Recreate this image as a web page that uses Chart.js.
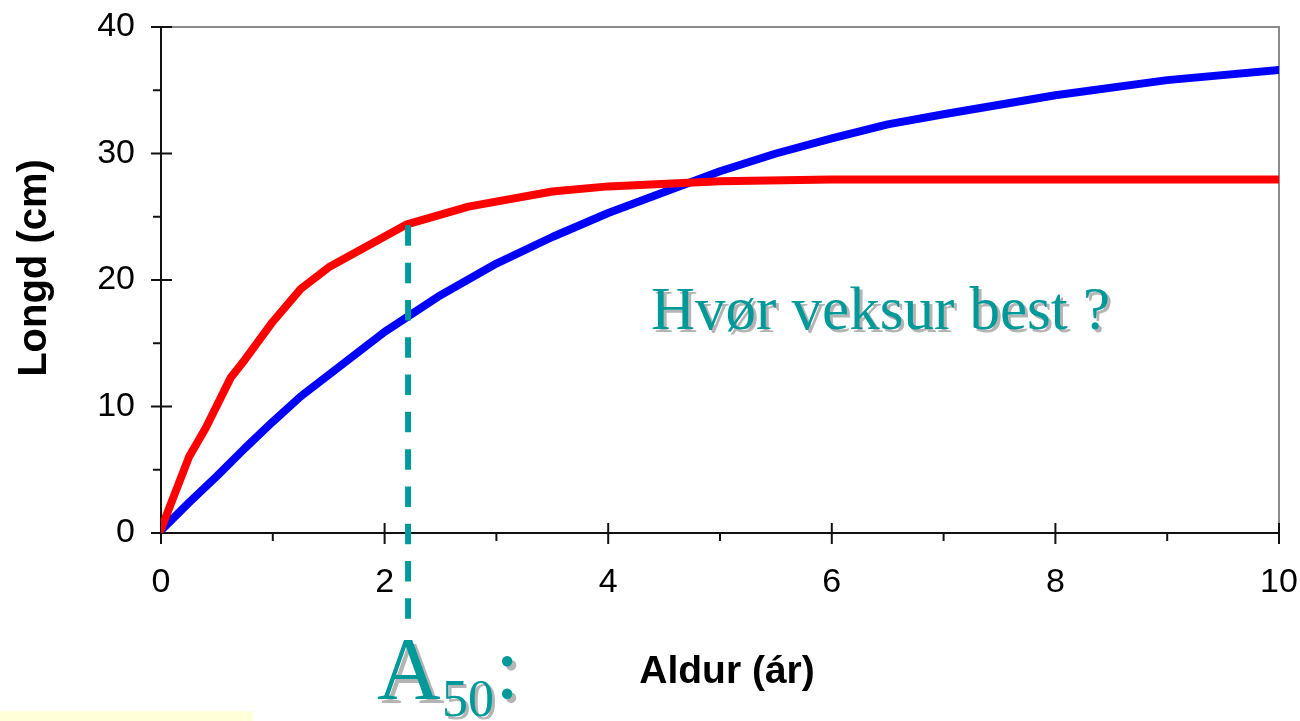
<!DOCTYPE html>
<html><head><meta charset="utf-8">
<script src="https://cdn.jsdelivr.net/npm/chart.js@4.4.0/dist/chart.umd.min.js"></script>
<style>html,body{margin:0;padding:0;background:#fff;overflow:hidden}#wrap{width:1300px;height:721px;position:relative}</style>
</head><body><div id="wrap"><canvas id="c" width="1300" height="721"></canvas></div>
<script>
// ---- data ----
const redAges    = [0, 0.25, 0.4, 0.625, 0.75, 1, 1.25, 1.5, 2.2, 2.75, 3.5, 4, 5, 6, 7, 8, 9, 10];
const redLengths = [0.3, 6.0, 8.3, 12.3, 13.7, 16.7, 19.3, 21.0, 24.4, 25.8, 27.0, 27.4, 27.8, 27.95, 27.95, 27.95, 27.95, 27.95];
const blueAges    = [0, 0.25, 0.5, 0.75, 1, 1.25, 1.5, 2, 2.5, 3, 3.5, 4, 5, 5.5, 6, 6.5, 7, 8, 9, 10];
const blueLengths = [0.2, 2.4, 4.5, 6.7, 8.8, 10.8, 12.5, 15.9, 18.8, 21.3, 23.4, 25.3, 28.6, 30.0, 31.2, 32.3, 33.1, 34.6, 35.8, 36.6];
const ageTicks    = [0, 2, 4, 6, 8, 10];
const lengthTicks = [0, 10, 20, 30, 40];
const a50Age = 2.21;
const a50Length = 24.4;
const xTitle = 'Aldur (ár)';
const yTitle = 'Longd (cm)';
const question = 'Hvør veksur best ?';

const teal = '#009999';
const shadow = '#b4b4b4';

function shadowText(ctx, txt, x, y, off) {
  const c = ctx.fillStyle;
  ctx.fillStyle = shadow;
  ctx.fillText(txt, x + off, y + off);
  ctx.fillStyle = c;
  ctx.fillText(txt, x, y);
}

const deco = {
  id: 'deco',
  beforeDatasetsDraw(chart) {
    const ctx = chart.ctx, a = chart.chartArea, xs = chart.scales.x, ys = chart.scales.y;
    ctx.save();
    ctx.strokeStyle = '#8a8a8a'; ctx.lineWidth = 2;
    ctx.beginPath(); ctx.moveTo(a.left, a.top); ctx.lineTo(a.right, a.top); ctx.lineTo(a.right, a.bottom); ctx.stroke();
    ctx.strokeStyle = '#111'; ctx.lineWidth = 2;
    ctx.beginPath(); ctx.moveTo(a.left, a.top); ctx.lineTo(a.left, a.bottom); ctx.lineTo(a.right, a.bottom); ctx.stroke();
    for (let v = 0; v <= 40; v += 5) {
      const p = ys.getPixelForValue(v);
      const major = v % 10 === 0;
      ctx.beginPath();
      ctx.moveTo(a.left - (major ? 10 : 8), p);
      ctx.lineTo(a.left + (major ? 11 : 0), p);
      ctx.stroke();
    }
    for (let v = 0; v <= 10; v += 1) {
      const p = xs.getPixelForValue(v);
      const major = v % 2 === 0;
      ctx.beginPath();
      ctx.moveTo(p, a.bottom - (major ? 10 : 0));
      ctx.lineTo(p, a.bottom + (major ? 11 : 8));
      ctx.stroke();
    }
    ctx.restore();
  },
  afterDatasetsDraw(chart) {
    const ctx = chart.ctx, a = chart.chartArea, xs = chart.scales.x, ys = chart.scales.y;
    ctx.save();
    const px = xs.getPixelForValue(a50Age);
    ctx.strokeStyle = teal; ctx.lineWidth = 6;
    ctx.setLineDash([20.5, 16.8]);
    ctx.beginPath(); ctx.moveTo(px, ys.getPixelForValue(a50Length) + 1); ctx.lineTo(px, a.bottom + 86); ctx.stroke();
    ctx.setLineDash([]);
    ctx.fillStyle = '#000';
    ctx.font = 'bold 39px "Liberation Sans", Arial, sans-serif';
    ctx.textAlign = 'center'; ctx.textBaseline = 'alphabetic';
    ctx.fillText(xTitle, 727, 683);
    ctx.font = 'bold 40px "Liberation Sans", Arial, sans-serif';
    ctx.save(); ctx.translate(46, 268); ctx.rotate(-Math.PI / 2);
    ctx.fillText(yTitle, 0, 0); ctx.restore();
    ctx.textAlign = 'left';
    ctx.fillStyle = teal;
    ctx.font = '61px "Liberation Serif", "Times New Roman", serif';
    shadowText(ctx, question, 651, 329, 3);
    ctx.font = '88px "Liberation Serif", "Times New Roman", serif';
    shadowText(ctx, 'A', 377, 698, 4);
    ctx.font = '52px "Liberation Serif", "Times New Roman", serif';
    shadowText(ctx, '50', 442, 716, 3);
    ctx.font = '88px "Liberation Serif", "Times New Roman", serif';
    shadowText(ctx, ':', 495, 698, 4);
    ctx.fillStyle = '#ffffd8';
    ctx.fillRect(0, 711, 253, 10);
    ctx.restore();
  }
};

const toPts = (xs, ys) => xs.map((x, i) => ({ x, y: ys[i] }));

new Chart(document.getElementById('c'), {
  type: 'line',
  data: {
    datasets: [
      { data: toPts(redAges, redLengths), borderColor: '#ff0000', borderWidth: 8, pointRadius: 0, tension: 0, fill: false, borderCapStyle: 'round', borderJoinStyle: 'round' },
      { data: toPts(blueAges, blueLengths), borderColor: '#0000ff', borderWidth: 8, pointRadius: 0, tension: 0, fill: false, borderCapStyle: 'round', borderJoinStyle: 'round' }
    ]
  },
  options: {
    responsive: false,
    animation: false,
    events: [],
    layout: { padding: { top: 27, right: 21, left: 0, bottom: 0 } },
    plugins: { legend: { display: false }, tooltip: { enabled: false } },
    scales: {
      x: {
        type: 'linear', min: 0, max: 10,
        afterBuildTicks: s => { s.ticks = ageTicks.map(v => ({ value: v })); },
        afterFit: s => { s.height = 188; s.paddingLeft = 0; s.paddingRight = 0; },
        grid: { display: false, drawTicks: false },
        border: { display: false },
        ticks: { color: '#000', padding: 29, maxRotation: 0, autoSkip: false, font: { family: '"Liberation Sans", Arial, sans-serif', size: 34 } }
      },
      y: {
        type: 'linear', min: 0, max: 40,
        afterBuildTicks: s => { s.ticks = lengthTicks.map(v => ({ value: v })); },
        afterFit: s => { s.width = 161; s.paddingTop = 0; s.paddingBottom = 0; },
        grid: { display: false, drawTicks: false },
        border: { display: false },
        ticks: { color: '#000', padding: 26, font: { family: '"Liberation Sans", Arial, sans-serif', size: 34 } }
      }
    }
  },
  plugins: [deco]
});
</script>
</body></html>
